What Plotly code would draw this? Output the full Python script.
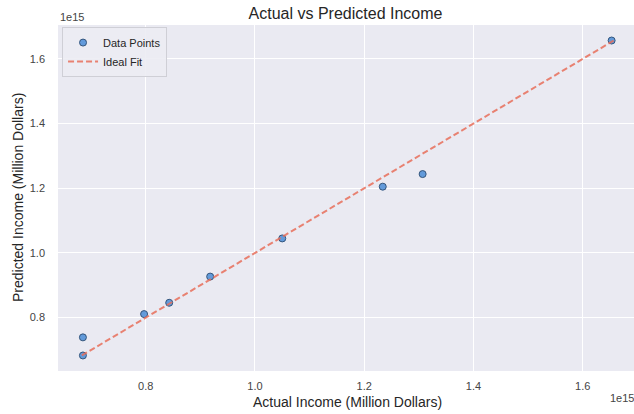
import plotly.graph_objects as go

# Actual vs predicted income (values in dollars, axes shown in units of 1e15)
actual = [0.685e15, 0.685e15, 0.797e15, 0.843e15, 0.918e15, 1.050e15, 1.234e15, 1.307e15, 1.653e15]
predicted = [0.683e15, 0.739e15, 0.811e15, 0.846e15, 0.927e15, 1.045e15, 1.205e15, 1.244e15, 1.657e15]

x_tickvals = [0.8e15, 1.0e15, 1.2e15, 1.4e15, 1.6e15]
x_ticktext = ["0.8", "1.0", "1.2", "1.4", "1.6"]
y_tickvals = [0.8e15, 1.0e15, 1.2e15, 1.4e15, 1.6e15]
y_ticktext = ["0.8", "1.0", "1.2", "1.4", "1.6"]

FONT = "Liberation Sans, Arial, sans-serif"

# ideal-fit diagonal spans the full range of the data
lo = min(min(actual), min(predicted))
hi = max(max(actual), max(predicted))

fig = go.Figure()
fig.add_trace(go.Scatter(
    x=actual, y=predicted, mode="markers", name="Data Points",
    marker=dict(size=7, color="rgba(74,140,214,0.85)",
                line=dict(color="#34557c", width=1)),
))
fig.add_trace(go.Scatter(
    x=[lo, hi], y=[lo, hi], mode="lines", name="Ideal Fit",
    line=dict(color="rgba(232,110,90,0.85)", width=2, dash="6px,3px"),
))

fig.update_layout(
    width=634, height=414,
    margin=dict(l=58, r=0, t=25, b=43),
    paper_bgcolor="white", plot_bgcolor="#EAEAF2",
    font=dict(family=FONT, color="#262626"),
    showlegend=True,
    legend=dict(x=0.007, y=0.994, xanchor="left", yanchor="top",
                bgcolor="rgba(236,236,243,0.9)", bordercolor="#cfcfd6", borderwidth=1,
                font=dict(size=11, color="#262626"), itemwidth=30,
                tracegroupgap=0),
    title=dict(text="Actual vs Predicted Income", x=0.545, xanchor="center",
               y=0.968, yanchor="middle", font=dict(size=16, color="#262626")),
    xaxis=dict(range=[0.6394e15, 1.694e15], tickvals=x_tickvals, ticktext=x_ticktext,
               showgrid=True, gridcolor="white", gridwidth=1, zeroline=False,
               showline=False, ticks="", ticklabelstandoff=7,
               tickfont=dict(size=11, color="#444")),
    yaxis=dict(range=[0.635e15, 1.705e15], tickvals=y_tickvals, ticktext=y_ticktext,
               showgrid=True, gridcolor="white", gridwidth=1, zeroline=False,
               showline=False, ticks="", ticklabelstandoff=12,
               tickfont=dict(size=11, color="#444")),
    annotations=[
        dict(text="Actual Income (Million Dollars)", xref="paper", yref="paper",
             x=0.503, y=0, yshift=-31, xanchor="center", yanchor="middle",
             showarrow=False, font=dict(size=14, color="#262626")),
        dict(text="Predicted Income (Million Dollars)", xref="paper", yref="paper",
             x=0, xshift=-40, y=0.5, textangle=-90, xanchor="center", yanchor="middle",
             showarrow=False, font=dict(size=14, color="#262626")),
        dict(text="1e15", xref="paper", yref="paper", x=0, y=1, yshift=8,
             xanchor="left", yanchor="middle", showarrow=False,
             font=dict(size=11, color="#444")),
        dict(text="1e15", xref="paper", yref="paper", x=1, xshift=2, y=0, yshift=-27,
             xanchor="right", yanchor="middle", showarrow=False,
             font=dict(size=11, color="#444")),
    ],
)

fig.write_html("out.html")
